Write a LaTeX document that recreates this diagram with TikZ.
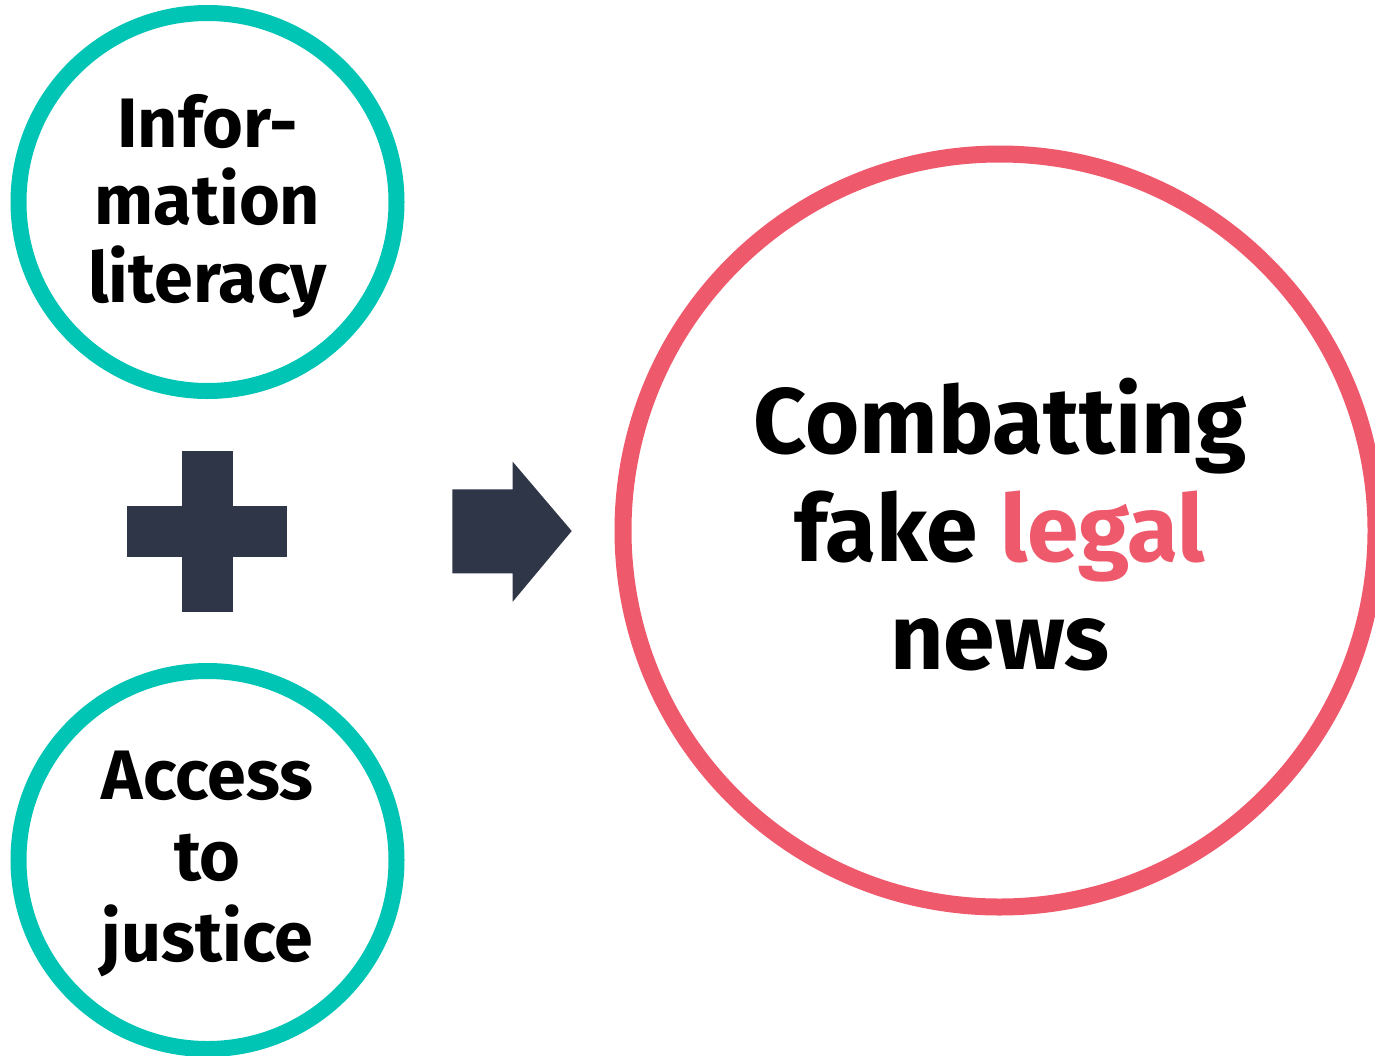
\documentclass[tikz,border=0pt]{standalone}
\usepackage{fontspec}
\setmainfont{Fira Sans}
\definecolor{teal1}{HTML}{00C5B5}
\definecolor{rose1}{HTML}{EF596C}
\definecolor{navy1}{HTML}{2F3648}
\begin{document}
\begin{tikzpicture}[x=1pt,y=-1pt,
  ring/.style={draw=teal1,line width=16pt,circle,minimum size=378pt,inner sep=0pt},
  bigring/.style={draw=rose1,line width=17pt,circle,minimum size=753pt,inner sep=0pt},
  smalltxt/.style={align=center,font=\fontsize{70}{77.5}\selectfont\bfseries},
  bigtxt/.style={align=center,font=\fontsize{93}{108}\selectfont\bfseries},
  shapefill/.style={fill=navy1,draw=none}]
\useasboundingbox (0,0) rectangle (1375,1055);
\node[ring] (c1) at (207.5,202) {};
\node[ring] (c2) at (207.5,860) {};
\node[bigring] (c3) at (999.5,530.5) {};
\node[smalltxt] (t1) at (207.5,206) {Infor-\\mation\\literacy};
\node[smalltxt,font=\fontsize{70}{81}\selectfont\bfseries] (t2) at (207.5,864) {Access\\to\\justice};
\node[bigtxt] (t3) at (1000,525) {Combatting\\fake \textcolor{rose1}{legal}\\news};
\fill[shapefill] (181.7,451) rectangle (232.7,611.7);
\fill[shapefill] (126.7,505.7) rectangle (287.3,556.7);
\fill[shapefill] (452.3,489.3) -- (512.7,489.3) -- (512.7,461.7) -- (571.7,531) -- (512.7,601.7) -- (512.7,573.3) -- (452.3,573.3) -- cycle;
\end{tikzpicture}
\end{document}
